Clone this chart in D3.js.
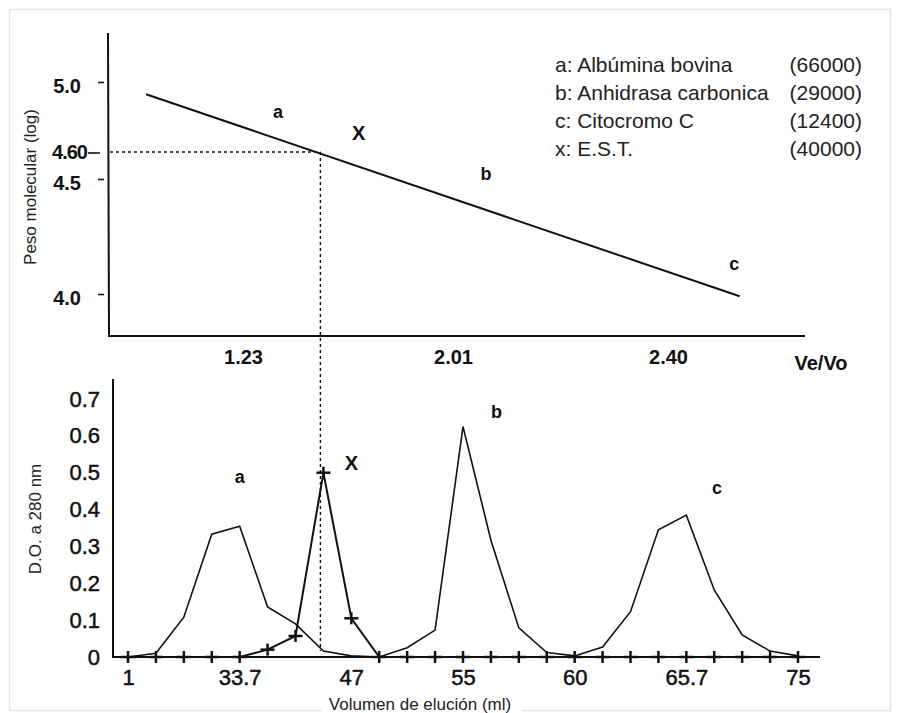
<!DOCTYPE html>
<html>
<head>
<meta charset="utf-8">
<script src="https://cdn.jsdelivr.net/npm/d3@7"></script>
<style>
body { margin: 0; background: #fff; }
svg { font-family: "Liberation Sans", Arial, sans-serif; }
</style>
</head>
<body>
<script>
// upper panel: calibration curve log(PM) vs Ve/Vo
var veVoTicks = [1.23, 2.01, 2.40];
var logMwTicks = [4.0, 4.5, 5.0];
var logMwEst = 4.60;
var calibLine = [{vevo: 0.87, logmw: 4.93}, {vevo: 2.53, logmw: 3.99}];
var topLetters = [
    {t: "a", vevo: 1.36, logmw: 4.83},
    {t: "X", vevo: 1.66, logmw: 4.71},
    {t: "b", vevo: 2.07, logmw: 4.52},
    {t: "c", vevo: 2.52, logmw: 4.13}
];
var legendNames = ["a: Albúmina bovina", "b: Anhidrasa carbonica", "c: Citocromo C", "x: E.S.T."];
var legendMw = ["(66000)", "(29000)", "(12400)", "(40000)"];

// lower panel: elution profile
var fractions = [1, 2, 3, 4, 5, 6, 7, 8, 9, 10, 11, 12, 13, 14, 15, 16, 17, 18, 19, 20, 21, 22, 23, 24, 25];
var standardsOD = [0.0, 0.01, 0.108, 0.333, 0.355, 0.136, 0.09, 0.016, 0.003, 0.0, 0.025, 0.073, 0.625,
    0.317, 0.079, 0.012, 0.003, 0.027, 0.123, 0.345, 0.385, 0.182, 0.06, 0.016, 0.003];
var estOD = [0, 0, 0, 0, 0, 0.02, 0.057, 0.50, 0.105, 0, 0, 0, 0, 0, 0, 0, 0, 0, 0, 0, 0, 0, 0, 0, 0];
var estPeakFraction = 8;
var volTickFractions = [1, 5, 9, 13, 17, 21, 25];
var volTickLabels = ["1", "33.7", "47", "55", "60", "65.7", "75"];
var odTicks = [0, 0.1, 0.2, 0.3, 0.4, 0.5, 0.6, 0.7];
var bottomLetters = [
    {t: "a", f: 5, od: 0.488},
    {t: "X", f: 9, od: 0.526},
    {t: "b", f: 14.2, od: 0.665},
    {t: "c", f: 22.1, od: 0.458}
];

var svgWidth = 900, svgHeight = 713;
var svg = d3.select("body").append("svg").attr("width", svgWidth).attr("height", svgHeight);

// faint scan frame
svg.append("rect").attr("x", 9.5).attr("y", 9.5).attr("width", 881).attr("height", 701)
    .attr("fill", "none").attr("stroke", "#e6e6e6").attr("stroke-width", 1.5);

// ---------- upper panel ----------
var xTop = d3.scaleLinear().domain(veVoTicks).range([243, 453, 668]);
var yTop = d3.scaleLinear().domain([4.0, 4.5, 4.6, 5.0]).range([294, 179, 152, 82]);

var topPanel = svg.append("g");

topPanel.append("line").attr("x1", 108).attr("x2", 109).attr("y1", 33).attr("y2", 336)
    .attr("stroke", "#111").attr("stroke-width", 2);
topPanel.append("line").attr("x1", 108).attr("x2", 805).attr("y1", 336).attr("y2", 336)
    .attr("stroke", "#111").attr("stroke-width", 2);

var yAxisTop = topPanel.append("g").attr("transform", "translate(104,0)")
    .call(d3.axisLeft(yTop).tickValues(logMwTicks).tickFormat(d3.format(".1f")).tickSize(6).tickPadding(17));
yAxisTop.select(".domain").remove();
yAxisTop.selectAll("line").attr("stroke", "#111").attr("stroke-width", 1.6);
yAxisTop.selectAll("text").attr("font-size", 20).attr("font-weight", "bold").attr("fill", "#111")
    .attr("dy", "0.5em").style("font-family", "Liberation Sans, Arial, sans-serif");

// 4.60 marker
topPanel.append("text").attr("x", 87).attr("y", yTop(logMwEst)).attr("dy", "0.35em")
    .attr("text-anchor", "end").attr("font-size", 20).attr("font-weight", "bold").attr("fill", "#111")
    .attr("letter-spacing", -1).text("4.60");
topPanel.append("line").attr("x1", 88).attr("x2", 100).attr("y1", yTop(logMwEst) + 1).attr("y2", yTop(logMwEst) + 1)
    .attr("stroke", "#111").attr("stroke-width", 1.6);

var xAxisTop = topPanel.append("g").attr("transform", "translate(0,336)")
    .call(d3.axisBottom(xTop).tickValues(veVoTicks).tickFormat(d3.format(".2f")).tickSize(0).tickPadding(14));
xAxisTop.select(".domain").remove();
xAxisTop.selectAll("text").attr("font-size", 20).attr("font-weight", "bold").attr("fill", "#111")
    .style("font-family", "Liberation Sans, Arial, sans-serif");

topPanel.append("text").attr("x", 821).attr("y", 370).attr("text-anchor", "middle")
    .attr("font-size", 20).attr("font-weight", "bold").attr("fill", "#111").text("Ve/Vo");

topPanel.append("path").datum(calibLine)
    .attr("d", d3.line().x(d => xTop(d.vevo)).y(d => yTop(d.logmw)))
    .attr("fill", "none").attr("stroke", "#111").attr("stroke-width", 2);

topPanel.selectAll(".lt").data(topLetters).enter().append("text")
    .attr("x", d => xTop(d.vevo)).attr("y", d => yTop(d.logmw)).attr("dy", "0.35em")
    .attr("text-anchor", "middle").attr("font-weight", "bold").attr("fill", "#111")
    .attr("font-size", d => d.t == "X" ? 20 : 18).text(d => d.t);

topPanel.append("text").attr("transform", "translate(30,187) rotate(-90)").attr("text-anchor", "middle")
    .attr("dy", "0.35em").attr("font-size", 17).attr("fill", "#222").text("Peso molecular (log)");

// legend
var legend = topPanel.append("g").attr("font-size", 21).attr("fill", "#222");
legend.selectAll(".ln").data(legendNames).enter().append("text")
    .attr("x", 555).attr("y", (d, i) => 72 + i * 28).text(d => d);
legend.selectAll(".lm").data(legendMw).enter().append("text")
    .attr("x", 862).attr("y", (d, i) => 72 + i * 28).attr("text-anchor", "end").text(d => d);

// ---------- lower panel ----------
var xBot = d3.scaleLinear().domain([1, 25]).range([128, 798]);
var yBot = d3.scaleLinear().domain([0, 0.7]).range([657, 399]);

var bot = svg.append("g");

bot.append("line").attr("x1", 113).attr("x2", 113).attr("y1", 379).attr("y2", 658)
    .attr("stroke", "#111").attr("stroke-width", 2);
bot.append("line").attr("x1", 113).attr("x2", 820).attr("y1", yBot(0)).attr("y2", yBot(0))
    .attr("stroke", "#111").attr("stroke-width", 2);

var yAxisBot = bot.append("g").attr("transform", "translate(113,0)")
    .call(d3.axisLeft(yBot).tickValues(odTicks).tickFormat(d => d == 0 ? "0" : d3.format(".1f")(d))
        .tickSize(0).tickPadding(13));
yAxisBot.select(".domain").remove();
yAxisBot.selectAll("text").attr("font-size", 22).attr("fill", "#111").attr("stroke", "#111")
    .attr("stroke-width", 0.5).style("font-family", "Liberation Sans, Arial, sans-serif");

var xAxisBot = bot.append("g").attr("transform", "translate(0," + yBot(0) + ")")
    .call(d3.axisBottom(xBot).tickValues(volTickFractions).tickFormat((d, i) => volTickLabels[i])
        .tickSize(0).tickPadding(12));
xAxisBot.select(".domain").remove();
xAxisBot.selectAll("text").attr("font-size", 22).attr("fill", "#111").attr("stroke", "#111")
    .attr("stroke-width", 0.5).style("font-family", "Liberation Sans, Arial, sans-serif");

// dashed guide from the E.S.T. peak up to the calibration line
var guideX = xBot(estPeakFraction) - 3;
svg.append("line").attr("x1", 110).attr("x2", guideX).attr("y1", yTop(logMwEst)).attr("y2", yTop(logMwEst))
    .attr("stroke", "#111").attr("stroke-width", 1.4).attr("stroke-dasharray", "3,3");
svg.append("line").attr("x1", guideX).attr("x2", guideX).attr("y1", yTop(logMwEst)).attr("y2", yBot(0.016))
    .attr("stroke", "#111").attr("stroke-width", 1.4).attr("stroke-dasharray", "3,3");

var line = d3.line().x((d, i) => xBot(fractions[i])).y(d => yBot(d));

bot.append("path").datum(standardsOD).attr("d", line)
    .attr("fill", "none").attr("stroke", "#111").attr("stroke-width", 1.6);
bot.append("path").datum(estOD).attr("d", line)
    .attr("fill", "none").attr("stroke", "#111").attr("stroke-width", 2);

var plus = bot.selectAll(".plus").data(estOD).enter().append("g")
    .attr("transform", (d, i) => "translate(" + xBot(fractions[i]) + "," + yBot(d) + ")");
plus.append("line").attr("x1", -7).attr("x2", 7).attr("stroke", "#111").attr("stroke-width", 2.5);
plus.append("line").attr("y1", -6).attr("y2", 6).attr("stroke", "#111").attr("stroke-width", 2.5);

bot.selectAll(".lt").data(bottomLetters).enter().append("text")
    .attr("x", d => xBot(d.f)).attr("y", d => yBot(d.od)).attr("dy", "0.35em")
    .attr("text-anchor", "middle").attr("font-weight", "bold").attr("fill", "#111")
    .attr("font-size", d => d.t == "X" ? 20 : 18).text(d => d.t);

bot.append("text").attr("transform", "translate(35,519) rotate(-90)").attr("text-anchor", "middle")
    .attr("dy", "0.35em").attr("font-size", 17).attr("fill", "#222").text("D.O. a 280 nm");

bot.append("rect").attr("x", 322).attr("y", 694).attr("width", 200).attr("height", 19).attr("fill", "#fff");
bot.append("text").attr("x", 420).attr("y", 710).attr("text-anchor", "middle")
    .attr("font-size", 17).attr("fill", "#222").text("Volumen de elución (ml)");
</script>
</body>
</html>
